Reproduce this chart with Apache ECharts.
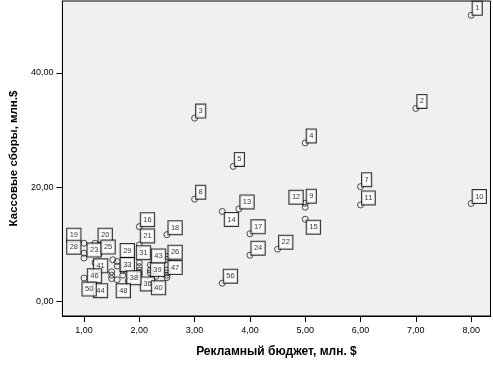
<!DOCTYPE html>
<html>
<head>
<meta charset="utf-8">
<script src="https://cdn.jsdelivr.net/npm/echarts@6/dist/echarts.min.js"></script>
<style>
html,body{margin:0;padding:0;background:#fff;}
#chart{width:493px;height:371px;}
</style>
</head>
<body>
<div id="chart"></div>
<script>
// ---- data ----
const ids = [1,2,3,4,5,6,7,8,9,10,11,12,13,14,15,16,17,18,19,20,21,22,23,24,25,26,27,28,29,30,31,32,33,34,35,36,37,38,39,40,41,42,43,44,45,46,47,48,49,50,51,52,53,54,55,56];
const budget = [8.0,7.0,3.0,5.0,3.7,1.5,6.0,3.0,5.0,8.0,6.0,5.0,3.8,3.5,5.0,2.0,4.0,2.5,1.0,1.2,2.0,4.5,1.0,4.0,1.27,2.5,2.0,1.0,1.6,2.0,2.0,2.0,1.6,2.5,2.5,2.0,2.5,1.7,2.2,2.2,1.52,2.5,2.2,1.5,1.3,1.5,2.5,1.6,1.8,1.0,2.2,1.7,1.2,2.3,1.8,3.5];
const boxOffice = [50.1,33.8,32.1,27.75,23.65,4.6,20.1,17.9,17.2,17.15,16.9,16.5,16.2,15.75,14.4,13.1,11.85,11.7,10.2,10.2,9.9,9.15,7.6,8.1,8.3,7.4,6.1,8.45,7.0,5.5,6.8,5.0,6.2,5.0,4.6,4.65,4.2,4.6,5.5,3.8,7.3,7.9,6.4,4.0,5.6,5.2,5.5,3.8,5.8,4.1,5.0,5.4,6.8,4.4,3.6,3.2];
const xTicks = [1,2,3,4,5,6,7,8];
const yTicks = [0,20,40];
const xName = 'Рекламный бюджет, млн. $';
const yName = 'Кассовые сборы, млн.$';

// ---- label placement (style): anchor offset from point centre, align, vertical align ----
const UR = [2, 0, 'left', 'bottom'];
const labelPlace = {
  1: UR, 2: UR, 3: UR, 4: UR, 5: UR, 7: UR, 8: UR, 9: UR, 10: UR, 11: UR,
  12: [-2, -3, 'right', 'bottom'], 13: UR, 14: [3, 2, 'left', 'top'], 15: [2, 2, 'left', 'top'],
  16: UR, 17: UR, 18: UR, 22: UR, 24: UR, 26: UR, 56: UR,
  19: [-3, -1, 'right', 'bottom'], 20: [4, -1, 'left', 'bottom'],
  28: [-3, 1, 'right', 'bottom'], 23: [4, -1, 'left', 'bottom'],
  25: [3, 0, 'left', 'bottom'], 41: [-5, 0, 'right', 'top'],
  29: [4, -4, 'left', 'bottom'], 33: [4, -1, 'left', 'middle'],
  46: [-10, -2, 'right', 'top'], 50: [-1, 5, 'left', 'top'],
  44: [-4, 6, 'right', 'top'], 48: [0, 5, 'left', 'top'],
  38: [5, 3, 'left', 'middle'], 21: [2, -2, 'left', 'bottom'],
  31: [-2, -3, 'left', 'bottom'], 36: [2, 3, 'left', 'top'],
  43: [2, -2, 'left', 'bottom'], 39: [1, 0, 'left', 'middle'],
  40: [2, 2, 'left', 'top'], 47: [2, -2, 'left', 'middle']
};

const R = 3; // half symbol size
const points = ids.map((id, i) => {
  const p = labelPlace[id];
  const item = { name: String(id), value: [budget[i], boxOffice[i]] };
  if (p) {
    item.label = {
      show: true,
      position: [R + p[0], R + p[1]],
      align: p[2],
      verticalAlign: p[3]
    };
  } else {
    item.label = { show: false };
  }
  return item;
});

const fmt = v => v.toFixed(2).replace('.', ',');

const chart = echarts.init(document.getElementById('chart'), null, { renderer: 'canvas' });
chart.setOption({
  backgroundColor: '#ffffff',
  animation: false,
  grid: {
    left: 57.5, right: 2.5, top: 1, bottom: 55,
    show: true, backgroundColor: '#f0f0f0', borderColor: '#000', borderWidth: 1
  },
  xAxis: {
    type: 'value', min: 0.61, max: 8.35,
    name: xName, nameLocation: 'middle', nameGap: 30,
    nameTextStyle: { fontFamily: 'Liberation Sans, Arial, sans-serif', fontWeight: 'bold', fontSize: 12, color: '#000' },
    axisLine: { show: true, onZero: false, lineStyle: { color: '#000', width: 1 } },
    axisTick: { show: true, customValues: xTicks, length: 6, lineStyle: { color: '#000' } },
    axisLabel: { customValues: xTicks, formatter: fmt, fontSize: 9, color: '#000', margin: 10,
      fontFamily: 'Liberation Sans, Arial, sans-serif' },
    splitLine: { show: false }
  },
  yAxis: {
    type: 'value', min: -2.54, max: 52.6,
    name: yName, nameLocation: 'middle', nameGap: 30,
    nameTextStyle: { fontFamily: 'Liberation Sans, Arial, sans-serif', fontWeight: 'bold', fontSize: 11.5, color: '#000' },
    axisLine: { show: true, onZero: false, lineStyle: { color: '#000', width: 1 } },
    axisTick: { show: true, customValues: yTicks, length: 6, lineStyle: { color: '#000' } },
    axisLabel: { customValues: yTicks, formatter: fmt, fontSize: 9, color: '#000', margin: 9,
      fontFamily: 'Liberation Sans, Arial, sans-serif' },
    splitLine: { show: false }
  },
  series: [{
    type: 'scatter',
    symbol: 'circle',
    symbolSize: 6,
    itemStyle: { color: 'rgba(255,255,255,0)', borderColor: '#222', borderWidth: 1 },
    label: {
      formatter: '{b}',
      fontSize: 7.5,
      lineHeight: 8,
      fontFamily: 'Liberation Sans, Arial, sans-serif',
      color: '#000',
      backgroundColor: '#fff',
      borderColor: '#000',
      borderWidth: 1,
      padding: [2.5, 2.5, 2.5, 2.5]
    },
    emphasis: { disabled: true },
    data: points
  }]
});
</script>
</body>
</html>
